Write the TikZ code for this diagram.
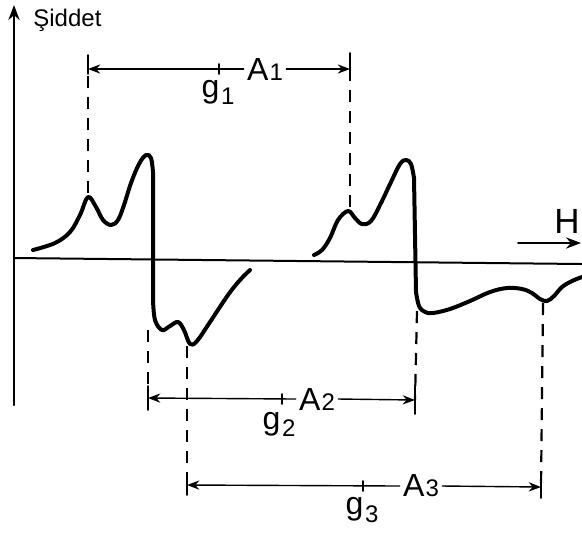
\documentclass[tikz,border=0pt]{standalone}
\usepackage{fontspec}
\setmainfont{Liberation Sans}
\usepackage{tikz}
\usetikzlibrary{arrows.meta}
\tikzset{
  every picture/.style={line join=round, line cap=round, >=Stealth},
  signal/.style={line width=2pt},
  axis/.style={line width=1pt},
  guide/.style={line width=1.1pt, line cap=butt, dash pattern=on 6pt off 4.5pt},
  dim/.style={line width=0.7pt},
  tick/.style={line width=0.9pt},
  lbl/.style={font=\fontsize{16}{18}\selectfont, inner sep=1.5pt},
}
\newcommand{\Alab}[1]{A\kern0.6pt{\fontsize{12}{12}\selectfont #1}}
\newcommand{\glab}[1]{g\kern0.8pt\raisebox{-0.22em}{\fontsize{12}{12}\selectfont #1}}

\begin{document}
\begin{tikzpicture}[x=0.5pt,y=-0.5pt]
\clip (0,0) rectangle (582,532);
% axes
\draw[axis,->] (14,405) -- (14,5);
\draw[axis] (14,258) -- (582,264);
\node[anchor=west, font=\fontsize{12}{13}\selectfont, inner sep=0pt] (sid) at (33,20) {Şiddet};
\draw[axis,->] (518,243) -- (581,243);
\node[anchor=east, font=\fontsize{17.5}{18}\selectfont, inner sep=0pt] (H) at (580,221) {H};
% spectrum
\draw[signal] plot[smooth,tension=0.6] coordinates {(33,250) (55,243) (70,232) (80,215) (88,197) (96,207) (103,220) (111,225) (118,220) (124,205) (131,183) (139,164) (146,155) (151,158) (153,172)}
  -- (153,300)
  -- plot[smooth,tension=0.6] coordinates {(153,300) (155,320) (162,330) (170,326) (178,322) (184,330) (190,344) (197,341) (210,322) (228,295) (240,280) (250,270)};
\draw[signal] plot[smooth,tension=0.6] coordinates {(314,255) (322,250) (330,238) (338,220) (348,211) (355,218) (362,224) (371,221) (381,203) (391,182) (400,164) (406,160) (411,164) (414,178)}
  -- (416,292)
  -- plot[smooth,tension=0.6] coordinates {(416,292) (419,306) (425,312) (433,313) (450,309) (470,301) (490,292) (507,288) (522,289) (532,293) (540,299) (547,301) (554,296) (562,287) (572,281) (582,277)};
% peak markers
\coordinate (m1) at (88,193);
\coordinate (m2) at (350,207);
\coordinate (m3) at (148,330);
\coordinate (m4) at (417,311);
\coordinate (m5) at (187,346);
\coordinate (m6) at (543,303);
\coordinate (a1l) at (88,69);
\coordinate (a1r) at (350,69);
\coordinate (a2l) at (148,398);
\coordinate (a2r) at (415,400);
\coordinate (a3l) at (187,485);
\coordinate (a3r) at (541,487);
\draw[guide] (m1) -- (a1l);
\draw[guide] (m2) -- (a1r);
\draw[guide] (m3) -- (a2l);
\draw[guide] (m4) -- (a2r);
\draw[guide] (m5) -- (a3l);
\draw[guide] (m6) -- (a3r);
% spacings
\node[lbl] (A1) at (265,69) {\Alab1};
\node[lbl] (A2) at (317,399) {\Alab2};
\node[lbl] (A3) at (421,486) {\Alab3};
\draw[dim,->] (A1.west) -- (a1l);
\draw[dim,->] (A1.east) -- (a1r);
\draw[dim,->] (A2.west) -- (a2l);
\draw[dim,->] (A2.east) -- (a2r);
\draw[dim,->] (A3.west) -- (a3l);
\draw[dim,->] (A3.east) -- (a3r);
\draw[tick] (a1l) ++(0,-14) -- ++(0,19);
\draw[tick] (a1r) ++(0,-16) -- ++(0,20);
\draw[tick] (a2l) ++(0,-12) -- ++(0,24);
\draw[tick] (a2r) ++(0,-14) -- ++(0,28);
\draw[tick] (a3l) ++(0,-9) -- ++(0,19);
\draw[tick] (a3r) ++(0,-10) -- ++(0,21);
% centres
\draw[tick] (219,64) -- (219,74);
\draw[tick] (282,394) -- (282,404);
\draw[tick] (363,481) -- (363,491);
\node[lbl] (g1) at (218,92) {\glab1};
\node[lbl] (g2) at (279,424) {\glab2};
\node[lbl] (g3) at (362,510) {\glab3};
\end{tikzpicture}
\end{document}
